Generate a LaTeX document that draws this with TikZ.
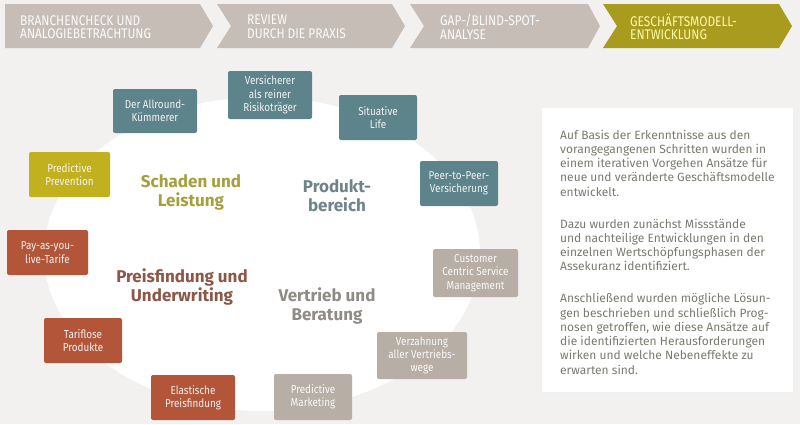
\documentclass[tikz,border=0pt]{standalone}
\usepackage{fontspec}
\setmainfont{Fira Sans}
\newfontfamily\condfont[FakeStretch=0.86]{Fira Sans}
\newfontfamily\bannerfont[FakeStretch=0.85]{Fira Sans}
\definecolor{bg}{HTML}{F2F1EF}
\definecolor{teal}{HTML}{5D838B}
\definecolor{olivebox}{HTML}{C2B11F}
\definecolor{rust}{HTML}{B25539}
\definecolor{taupe}{HTML}{B7AEA5}
\definecolor{chevgray}{HTML}{C6BEB6}
\definecolor{chevolive}{HTML}{A89B1E}
\definecolor{labolive}{HTML}{A6A03C}
\definecolor{labteal}{HTML}{6E8489}
\definecolor{labrust}{HTML}{8C5748}
\definecolor{labgray}{HTML}{8F8B86}
\definecolor{bodytext}{HTML}{7B7A70}
\begin{document}
\begin{tikzpicture}[x=1pt,y=-1pt,
  box/.style={rounded corners=2pt, inner sep=0pt, align=center,
    text=white!95!black, font=\condfont\fontsize{11.5}{13.3}\selectfont},
  tealbox/.style={box, fill=teal},
  olivebx/.style={box, fill=olivebox},
  rustbox/.style={box, fill=rust},
  taupebox/.style={box, fill=taupe, text=white!92!taupe},
  chevtext/.style={anchor=west, align=left, inner sep=0pt,
    font=\bannerfont\fontsize{14}{13.5}\selectfont},
  arealabel/.style={align=center, inner sep=0pt,
    font=\bfseries\fontsize{17}{19}\selectfont}
]
\useasboundingbox (0,0) rectangle (800,424);
\fill[bg] (0,0) rectangle (800,424);
% white blob
\fill[white] (262,254) ellipse [x radius=218, y radius=157];
% banner chevrons
\fill[chevgray] (5,4) -- (200,4) -- (213,26) -- (200,48) -- (5,48) -- cycle;
\fill[chevgray] (217,4) -- (392,4) -- (405,26) -- (392,48) -- (217,48) -- (231,26) -- cycle;
\fill[chevgray] (410,4) -- (588,4) -- (600,26) -- (588,48) -- (410,48) -- (424,26) -- cycle;
\fill[chevolive] (603,4) -- (779,4) -- (792,26) -- (779,48) -- (603,48) -- (617,26) -- cycle;
\node[chevtext, text=white!92!chevgray] (c1) at (20,27) {BRANCHENCHECK UND\\ANALOGIEBETRACHTUNG};
\node[chevtext, text=white!92!chevgray] (c2) at (247,27) {REVIEW\\DURCH DIE PRAXIS};
\node[chevtext, text=white!92!chevgray] (c3) at (440,27) {GAP-/BLIND-SPOT-\\ANALYSE};
\node[chevtext, text=yellow!35!white] (c4) at (630,27) {GESCHÄFTSMODELL-\\ENTWICKLUNG};
% boxes
\node[tealbox, minimum width=84, minimum height=44] (b1) at (155,111) {Der Allround-\\Kümmerer};
\node[tealbox, minimum width=84, minimum height=48] (b2) at (270,95) {Versicherer\\als reiner\\Risikoträger};
\node[tealbox, minimum width=78, minimum height=45] (b3) at (378,117.5) {Situative\\Life};
\node[tealbox, minimum width=78, minimum height=45] (b4) at (459,183.5) {Peer-to-Peer-\\Versicherung};
\node[taupebox, minimum width=85, minimum height=48] (b5) at (475.5,273) {Customer\\Centric Service\\Management};
\node[taupebox, minimum width=90, minimum height=47] (b6) at (422,355.5) {Verzahnung\\aller Vertriebs-\\wege};
\node[taupebox, minimum width=78, minimum height=46] (b7) at (313,397) {Predictive\\Marketing};
\node[rustbox, minimum width=84, minimum height=45] (b8) at (193,397.5) {Elastische\\Preisfindung};
\node[rustbox, minimum width=78, minimum height=45] (b9) at (83,340.5) {Tariflose\\Produkte};
\node[rustbox, minimum width=81, minimum height=45] (b10) at (47.5,252.5) {Pay-as-you-\\live-Tarife};
\node[olivebx, minimum width=81, minimum height=45] (b11) at (69.5,174.5) {Predictive\\Prevention};
% area labels
\node[arealabel, text=labolive] (l1) at (191,192) {Schaden und\\Leistung};
\node[arealabel, text=labteal] (l2) at (337,196) {Produkt-\\bereich};
\node[arealabel, text=labrust] (l3) at (182,287) {Preisfindung und\\Underwriting};
\node[arealabel, text=labgray] (l4) at (327,306) {Vertrieb und\\Beratung};
% right text panel
\fill[black!6] (544,110) rectangle (795,394);
\fill[white] (542,108) rectangle (793,392);
\node[anchor=north west, align=left, inner sep=0pt, text=bodytext,
  font=\fontsize{12}{14.3}\selectfont] (txt) at (560,129.5)
{Auf Basis der Erkenntnisse aus den\\
vorangegangenen Schritten wurden in\\
einem iterativen Vorgehen Ansätze für\\
neue und veränderte Geschäftsmodelle\\
entwickelt.\\[17.5pt]
Dazu wurden zunächst Missstände\\
und nachteilige Entwicklungen in den\\
einzelnen Wertschöpfungsphasen der\\
Assekuranz identifiziert.\\[17.5pt]
Anschließend wurden mögliche Lösun-\\
gen beschrieben und schließlich Prog-\\
nosen getroffen, wie diese Ansätze auf\\
die identifizierten Herausforderungen\\
wirken und welche Nebeneffekte zu\\
erwarten sind.};
\end{tikzpicture}
\end{document}
